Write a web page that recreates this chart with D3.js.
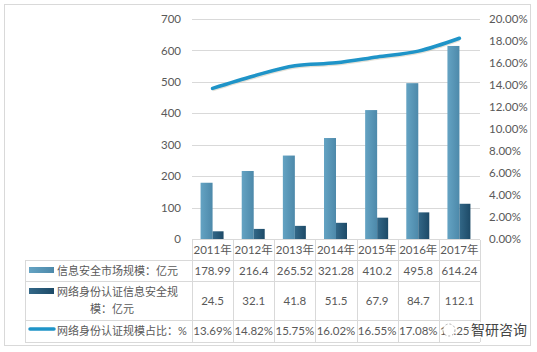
<!DOCTYPE html>
<html>
<head>
<meta charset="utf-8">
<script src="https://cdn.jsdelivr.net/npm/d3@7"></script>
<style>
	body { margin: 0; background: #fff; }
	svg { display: block; }
	text { font-family: Lato, "Noto Sans CJK SC", sans-serif; fill: #595959; }
</style>
</head>
<body>
<svg id="chart"></svg>
<script>
const years = ['2011年', '2012年', '2013年', '2014年', '2015年', '2016年', '2017年'];
const marketSize = [178.99, 216.4, 265.52, 321.28, 410.2, 495.8, 614.24];
const authSize = [24.5, 32.1, 41.8, 51.5, 67.9, 84.7, 112.1];
const authShare = [0.1369, 0.1482, 0.1575, 0.1602, 0.1655, 0.1708, 0.1825];
const leftTicks = [0, 100, 200, 300, 400, 500, 600, 700];
const rightTicks = [0, 0.02, 0.04, 0.06, 0.08, 0.10, 0.12, 0.14, 0.16, 0.18, 0.20];
const seriesNames = ['信息安全市场规模：亿元', '网络身份认证信息安全规|模：亿元', '网络身份认证规模占比：%'];

function makeChart() {
	let w = 537;
	let h = 352;

	let chart = d3.select('#chart')
		.attr('width', w)
		.attr('height', h);

	// outer frame
	chart.append('rect')
		.attr('x', 4.5).attr('y', 4.5)
		.attr('width', 526).attr('height', 341)
		.style('fill', 'none')
		.style('stroke', '#d9d9d9');

	let defs = chart.append('defs');
	let g1 = defs.append('linearGradient').attr('id', 'lightBar')
		.attr('x1', 0).attr('y1', 0).attr('x2', 1).attr('y2', 0);
	g1.append('stop').attr('offset', 0).attr('stop-color', '#64a3c3');
	g1.append('stop').attr('offset', 1).attr('stop-color', '#4d89aa');
	let g2 = defs.append('linearGradient').attr('id', 'darkBar')
		.attr('x1', 0).attr('y1', 0).attr('x2', 1).attr('y2', 0);
	g2.append('stop').attr('offset', 0).attr('stop-color', '#336888');
	g2.append('stop').attr('offset', 1).attr('stop-color', '#1d4a67');

	let x = d3.scaleBand().domain(years).range([192, 480]);
	let y = d3.scaleLinear().domain([0, 700]).range([239, 19]);
	let y2 = d3.scaleLinear().domain([0, 0.2]).range([239, 19]);
	let bw = x.bandwidth();
	let barW = 12;
	let off = (bw - 2 * barW) / 2;

	// gridlines
	chart.append('g')
		.selectAll('line')
		.data(leftTicks.filter(d => d > 0))
		.enter()
		.append('line')
		.attr('x1', 192).attr('x2', 480)
		.attr('y1', d => Math.round(y(d)) + 0.5)
		.attr('y2', d => Math.round(y(d)) + 0.5)
		.style('stroke', '#d9d9d9');

	// left axis
	let leftAxis = chart.append('g')
		.attr('transform', 'translate(192,0)')
		.call(d3.axisLeft(y).tickValues(leftTicks).tickSize(0).tickPadding(11));
	leftAxis.select('.domain').remove();
	leftAxis.selectAll('text').style('font-size', '11.5px').style('fill', '#595959')
		.style('font-family', 'Lato, sans-serif');

	// right axis
	let rightAxis = chart.append('g')
		.attr('transform', 'translate(480,0)')
		.call(d3.axisRight(y2).tickValues(rightTicks).tickSize(0).tickPadding(9)
			.tickFormat(d3.format('.2%')));
	rightAxis.select('.domain').remove();
	rightAxis.selectAll('text').style('font-size', '11.5px').style('fill', '#595959')
		.style('font-family', 'Lato, sans-serif');

	// bars
	chart.selectAll('rect.market')
		.data(marketSize)
		.enter()
		.append('rect')
		.classed('market', true)
		.attr('x', (d, i) => x(years[i]) + off)
		.attr('y', d => y(d))
		.attr('width', barW)
		.attr('height', d => y(0) - y(d))
		.style('fill', 'url(#lightBar)');

	chart.selectAll('rect.auth')
		.data(authSize)
		.enter()
		.append('rect')
		.classed('auth', true)
		.attr('x', (d, i) => x(years[i]) + off + barW)
		.attr('y', d => y(d))
		.attr('width', barW - 1)
		.attr('height', d => y(0) - y(d))
		.style('fill', 'url(#darkBar)');

	// line
	let line = d3.line()
		.x((d, i) => x(years[i]) + bw / 2)
		.y(d => y2(d))
		.curve(d3.curveMonotoneX);

	chart.append('path')
		.datum(authShare)
		.attr('d', line)
		.attr('transform', 'translate(0,1.5)')
		.style('fill', 'none')
		.style('stroke', '#c9c3b0')
		.style('stroke-opacity', 0.5)
		.style('stroke-width', 3);

	chart.append('path')
		.datum(authShare)
		.attr('d', line)
		.style('fill', 'none')
		.style('stroke', '#1f94c8')
		.style('stroke-width', 3.5)
		.style('stroke-linecap', 'round')
		.style('stroke-linejoin', 'round');

	// data table
	let rowTop = [240, 260, 281, 320, 342];
	let table = chart.append('g').style('stroke', '#d9d9d9').style('fill', 'none');

	table.append('line').attr('x1', 192).attr('x2', 480).attr('y1', 239.5).attr('y2', 239.5);
	rowTop.slice(1).forEach(r => {
		table.append('line').attr('x1', 25).attr('x2', 480)
			.attr('y1', r + 0.5).attr('y2', r + 0.5);
	});
	table.append('line').attr('x1', 25.5).attr('x2', 25.5).attr('y1', 260).attr('y2', 342);
	d3.range(8).forEach(i => {
		let xx = Math.round(192 + i * bw) + 0.5;
		table.append('line').attr('x1', xx).attr('x2', xx).attr('y1', 240).attr('y2', 342);
	});

	chart.selectAll('text.year')
		.data(years)
		.enter()
		.append('text')
		.classed('year', true)
		.attr('x', d => x(d) + bw / 2)
		.attr('y', 254)
		.style('text-anchor', 'middle')
		.style('font-size', '11.5px')
		.text(d => d);

	let rows = [
		marketSize.map(d => d3.format('')(d)),
		authSize.map(d => d3.format('')(d)),
		authShare.map(d => d3.format('.2%')(d))
	];
	rows.forEach((vals, r) => {
		let cy = (rowTop[r + 1] + rowTop[r + 2]) / 2;
		chart.selectAll('text.r' + r)
			.data(vals)
			.enter()
			.append('text')
			.attr('class', 'r' + r)
			.attr('x', (d, i) => x(years[i]) + bw / 2)
			.attr('y', cy + 4)
			.style('text-anchor', 'middle')
			.style('font-size', '11.5px')
			.text(d => d);
	});

	// legend keys and row labels
	let keyFill = ['url(#lightBar)', 'url(#darkBar)'];
	[0, 1].forEach(r => {
		chart.append('rect')
			.attr('x', 29).attr('y', rowTop[r + 1] + 7)
			.attr('width', 25).attr('height', 6)
			.style('fill', keyFill[r]);
	});
	chart.append('line')
		.attr('x1', 30).attr('x2', 54)
		.attr('y1', 329).attr('y2', 329)
		.style('stroke', '#1f94c8')
		.style('stroke-width', 3.5)
		.style('stroke-linecap', 'round');

	let labelFont = '11px';
	chart.append('text').attr('x', 57).attr('y', 275)
		.style('font-size', labelFont)
		.text(seriesNames[0]);
	let parts = seriesNames[1].split('|');
	chart.append('text').attr('x', 57).attr('y', 296)
		.style('font-size', labelFont)
		.text(parts[0]);
	chart.append('text').attr('x', 112).attr('y', 313)
		.style('font-size', labelFont)
		.style('text-anchor', 'middle')
		.text(parts[1]);
	chart.append('text').attr('x', 57).attr('y', 335)
		.style('font-size', labelFont)
		.text(seriesNames[2]);

	// watermark
	let wm = chart.append('g');
	wm.append('circle').attr('cx', 449).attr('cy', 330).attr('r', 6)
		.style('fill', 'white').style('stroke', '#aaa').style('stroke-dasharray', '2,2');
	wm.append('rect').attr('x', 470).attr('y', 322).attr('width', 54).attr('height', 16)
		.style('fill', 'white').style('opacity', 0.85);
	wm.append('text').attr('x', 471).attr('y', 335)
		.style('font-size', '14px').style('fill', '#444')
		.style('font-family', '"Noto Sans CJK SC", sans-serif')
		.text('智研咨询');
}

window.onload = function () {
	makeChart();
}
</script>
</body>
</html>
